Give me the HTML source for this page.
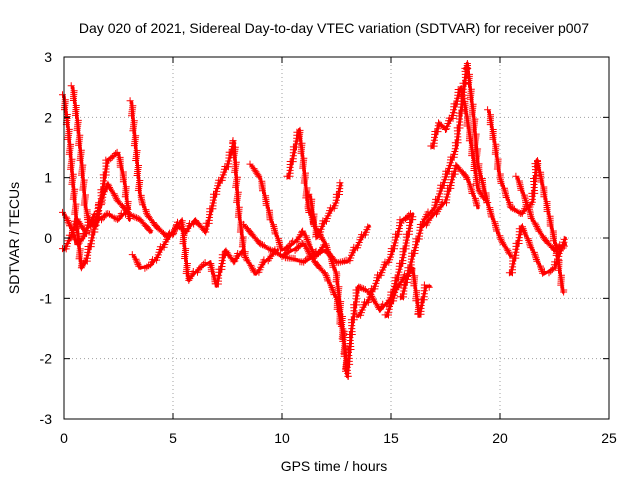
<!DOCTYPE html>
<html><head><meta charset="utf-8"><style>
body{margin:0;background:#fff;}
svg text{font-family:"Liberation Sans",sans-serif;font-size:14px;fill:#000;}
</style></head><body>
<svg width="640" height="480" xmlns="http://www.w3.org/2000/svg">
<rect width="640" height="480" fill="#fff"/>
<text x="334" y="33" text-anchor="middle">Day 020 of 2021, Sidereal Day-to-day VTEC variation (SDTVAR) for receiver p007</text>
<g id="grid"></g>
<g id="series"></g>
<rect x="64" y="57" width="545" height="362" fill="none" stroke="#000" stroke-width="1"/>
<g id="axes"></g>
<text x="334" y="471" text-anchor="middle">GPS time / hours</text>
<text transform="translate(19,238) rotate(-90)" text-anchor="middle">SDTVAR / TECUs</text>
</svg>
<script>
const xTicks=[0,5,10,15,20,25];
const yTicks=[-3,-2,-1,0,1,2,3];
const track1=[[0,2.35],[0.2,1.8],[0.4,1.0],[0.6,0.2],[0.8,-0.5],[1.0,-0.4],[1.3,0.0],[1.6,0.5],[2.0,0.9],[2.5,0.6],[3,0.4],[3.5,0.3],[4,0.1]];
const track2=[[0.4,2.5],[0.6,2.0],[0.8,1.3],[1.0,0.5],[1.2,0.2],[1.6,0.3],[2.0,0.4],[2.5,0.3],[3.0,0.5]];
const track3=[[0,0.4],[0.3,0.2],[0.6,-0.1],[0.9,0.0],[1.2,0.3],[1.5,0.2],[2,1.3],[2.5,1.4],[2.8,0.9],[3.0,0.3]];
const track4=[[0,-0.2],[0.3,0.0],[0.6,0.3],[1.0,0.1],[1.4,0.4]];
const track5=[[3.1,2.25],[3.3,1.5],[3.5,0.7],[3.8,0.4],[4.2,0.2],[4.8,0.0],[5.2,0.2],[5.6,0.1],[6.0,0.3],[6.5,0.1],[7,0.8],[7.5,1.2],[7.8,1.6],[8,0.5],[8.3,-0.3],[8.8,-0.6],[9.2,-0.4],[9.8,-0.2]];
const track6=[[3.2,-0.3],[3.5,-0.5],[4,-0.45],[4.3,-0.3],[4.6,-0.1],[5,0.1],[5.4,0.3],[5.7,-0.7],[6.2,-0.5],[6.7,-0.4],[7,-0.8],[7.4,-0.2],[7.8,-0.4],[8.2,-0.2]];
const track7=[[8.6,1.2],[9,1.0],[9.5,0.3],[10,-0.2],[10.5,-0.1],[11,0.1],[11.5,-0.3],[12,-0.1]];
const track8=[[10.3,1.0],[10.6,1.5],[10.8,1.8],[11,1.2],[11.2,0.5],[11.5,0.2],[12,-0.1],[12.5,-0.6],[12.8,-1.5],[13,-2.3],[13.2,-1.5],[13.5,-0.8],[14,-0.9],[14.5,-1.2],[15,-1.0],[15.5,-0.4],[16,0.4]];
const track9=[[8.3,0.2],[9,-0.1],[10,-0.3],[11,-0.1],[11.5,-0.4],[12,-0.6],[12.5,-1.0],[12.8,-1.6],[13,-2.2]];
const track10=[[11.3,0.7],[11.6,0.0],[12,0.3],[12.5,0.6],[12.7,0.9]];
const track11=[[10,-0.3],[11,-0.4],[12,-0.2],[12.5,-0.4],[13,-0.4],[13.5,-0.1],[14,0.2]];
const track12=[[13.5,-1.3],[14,-1.0],[14.5,-0.6],[15,-0.3],[15.5,0.3],[16,0.4]];
const track13=[[14.8,-1.3],[15.3,-0.8],[16,-0.5],[16.3,-1.3],[16.6,-0.8],[16.8,-0.8]];
const track14=[[15.5,-1.0],[16,-0.3],[16.5,0.3],[17,0.5],[17.5,1.0],[18,1.5],[18.5,2.9],[18.8,2.0],[19,1.2],[19.5,0.5],[20,0.0],[20.5,-0.3]];
const track15=[[16.9,1.5],[17.2,1.9],[17.5,1.8],[17.8,2.0],[18.2,2.5],[18.4,2.2],[18.7,1.5],[19,0.8],[19.4,0.6]];
const track16=[[16.5,0.2],[17,0.4],[17.5,0.6],[18,1.2],[18.5,1.0],[19,0.5]];
const track17=[[19.5,2.1],[19.8,1.5],[20,1.0],[20.5,0.5],[21,0.4],[21.5,0.6],[21.7,1.3],[22,0.8],[22.3,0.3],[22.6,-0.2],[22.9,-0.9]];
const track18=[[20.5,-0.6],[21,0.2],[21.5,-0.2],[22,-0.6],[22.5,-0.5],[23,0.0]];
const track19=[[20.8,1.0],[21.2,0.6],[21.5,0.3],[22,0.0],[22.5,-0.2],[23,-0.1]];
const tracks=[track1,track2,track3,track4,track5,track6,track7,track8,track9,track10,track11,track12,track13,track14,track15,track16,track17,track18,track19];
const X0=64,X1=609,Y0=419,Y1=57;
function xs(h){return X0+(h-0)/25*(X1-X0);}
function ys(v){return Y0-(v+3)/6*(Y0-Y1);}
const NS='http://www.w3.org/2000/svg';
function mk(t,a,p){const e=document.createElementNS(NS,t);for(const k in a)e.setAttribute(k,a[k]);p.appendChild(e);return e;}
const grid=document.getElementById('grid'),axes=document.getElementById('axes'),ser=document.getElementById('series');
xTicks.forEach(t=>{const x=xs(t);
 if(t>0&&t<25){const g=mk('line',{x1:x,x2:x,y1:Y1,y2:Y0,stroke:'#a0a0a0','stroke-dasharray':'1,3'},grid);}
 mk('line',{x1:x,x2:x,y1:Y0,y2:Y0-6,stroke:'#000'},axes);mk('line',{x1:x,x2:x,y1:Y1,y2:Y1+6,stroke:'#000'},axes);
 const tx=mk('text',{x:x,y:Y0+24,'text-anchor':'middle'},axes);tx.textContent=t;
 
 });
yTicks.forEach(t=>{const y=ys(t);
 if(t>-3&&t<3){const g=mk('line',{x1:X0,x2:X1,y1:y,y2:y,stroke:'#a0a0a0','stroke-dasharray':'1,3'},grid);}
 mk('line',{x1:X0,x2:X0+6,y1:y,y2:y,stroke:'#000'},axes);mk('line',{x1:X1,x2:X1-6,y1:y,y2:y,stroke:'#000'},axes);
 const tx=mk('text',{x:X0-12,y:y+5,'text-anchor':'end'},axes);tx.textContent=t;
 
 });
tracks.forEach((tr,i)=>{
 const d=tr.map((p,j)=>(j?'L':'M')+xs(p[0]).toFixed(1)+','+ys(p[1]).toFixed(1)).join('');
 const pa=mk('path',{d:d,fill:'none',stroke:'#ff0000','stroke-width':3,'stroke-linejoin':'round','stroke-linecap':'round'},ser);
 
 
 const L=pa.getTotalLength();
 let md='';
 for(let s=0;s<=L;s+=2.5){const q=pa.getPointAtLength(s);
  const ox=((s*7)%3)-1.5,oy=((s*13)%3)-1.5;
  const x=q.x+ox,y=q.y+oy;
  md+=`M${(x-3.5).toFixed(1)},${y.toFixed(1)}h7M${x.toFixed(1)},${(y-3.5).toFixed(1)}v7`;}
 const m=mk('path',{d:md,stroke:'#ff0000','stroke-width':1,fill:'none'},ser);
 
 
});
</script>
</body></html>
